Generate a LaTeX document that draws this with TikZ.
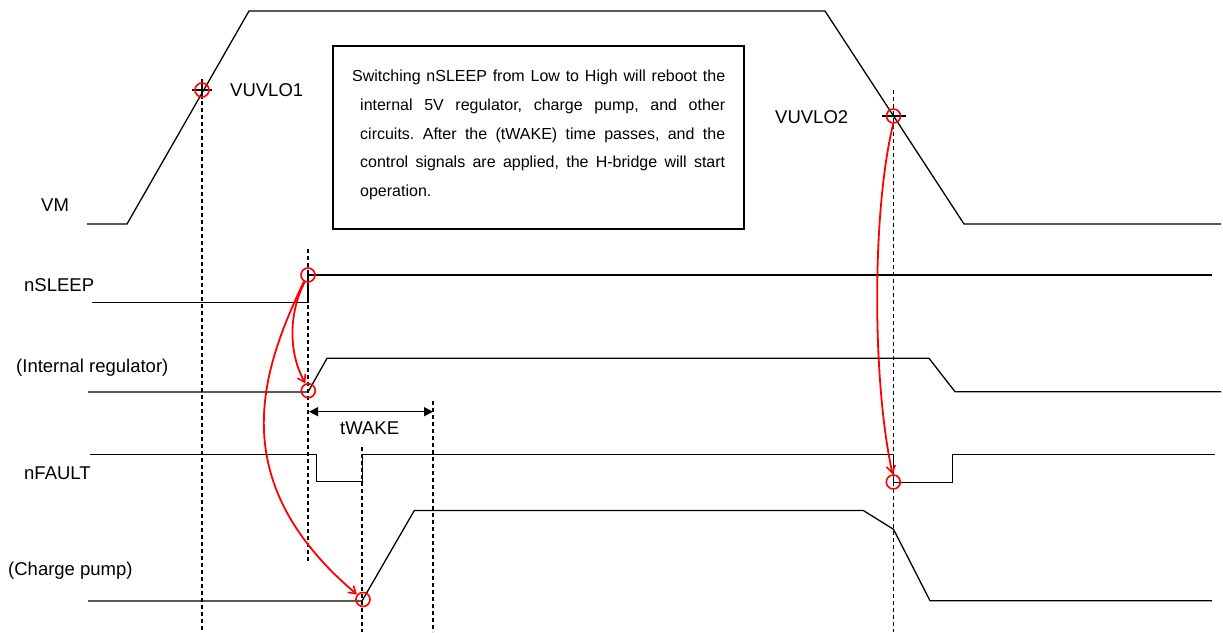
\documentclass[tikz,border=0pt]{standalone}
\usepackage{fontspec}
\setmainfont{Liberation Sans}
\usetikzlibrary{arrows.meta}
\begin{document}
\frenchspacing
\begin{tikzpicture}[x=1pt,y=-1pt,
  wave/.style={line width=1.3pt,line join=miter},
  guide/.style={line width=1.1pt,dash pattern=on 4pt off 3pt},
  ringmark/.style={circle,draw=red,line width=1.6pt,minimum size=14pt,inner sep=0pt},
  cross/.style={line width=1.1pt},
  cause/.style={draw=red,line width=1.8pt,-{Straight Barb[length=7pt,width=9pt,line width=1.6pt]}},
  lbl/.style={font=\fontsize{18.5}{22}\selectfont,inner sep=0pt,anchor=base west},
  dim/.style={line width=1.3pt,{Triangle[length=9pt,width=9pt]}-{Triangle[length=9pt,width=9pt]}}]
\useasboundingbox (0,0) rectangle (1223,632);
% guides
\draw[guide] (202,80) -- (202,632);
\draw[guide] (308,249) -- (308,561);
\draw[guide] (362,447) -- (362,632);
\draw[guide] (433,401) -- (433,632);
\draw[guide] (893.5,90) -- (893.5,632);
% waveforms
\draw[wave] (87,224) -- (127,224) -- (249,11) -- (825,11) -- (964,224) -- (1221,224);
\draw[wave] (92,302.7) -- (308,302.7) -- (308,275) -- (1212,275);
\draw[wave] (88,392) -- (308,392) -- (327,358.3) -- (929,358.3) -- (955,391.7) -- (1221,391.7);
\draw[wave] (90,454.5) -- (316.7,454.5) -- (316.7,481.7) -- (362.3,481.7) -- (362.3,454.5) -- (893.5,454.5) -- (893.5,482.3) -- (952.7,482.3) -- (952.7,454.5) -- (1215,454.5);
\draw[wave] (88,601) -- (362,601) -- (414.3,510.5) -- (863.3,510.5) -- (893.5,529.3) -- (930,600.7) -- (1212,600.7);
% crosshairs
\draw[cross] (192,90) -- (212,90);
\draw[cross] (202,79) -- (202,99);
\draw[cross] (882,116) -- (906,116);
% box
\node[draw,line width=1.6pt,minimum width=411pt,minimum height=183pt,inner sep=0pt,anchor=north west] (box) at (332,45) {};
\node[inner sep=0pt,anchor=base west,text width=365pt,align=justify,font=\fontsize{16}{28.75}\selectfont] (boxtext) at (360,81.7)
{\hspace*{-8pt}Switching nSLEEP from Low to High will reboot the\linebreak
internal 5V regulator, charge pump, and other\linebreak
circuits. After the (tWAKE) time passes, and the\linebreak
control signals are applied, the H-bridge will start\linebreak
operation.};
% labels
\node[lbl] (lvm) at (41,211) {VM};
\node[lbl] (lsleep) at (24,291) {nSLEEP};
\node[lbl] (lreg) at (16,372) {(Internal regulator)};
\node[lbl] (lfault) at (24,479) {nFAULT};
\node[lbl] (lcp) at (8,575) {(Charge pump)};
\node[lbl] (lu1) at (230,96.7) {VUVLO1};
\node[lbl] (lu2) at (775,123) {VUVLO2};
\node[lbl] (ltw) at (340,434) {tWAKE};
% markers
\node[ringmark] (c1) at (202,90) {};
\node[ringmark] (c2) at (893.5,116) {};
\node[ringmark] (c3) at (308,275) {};
\node[ringmark] (c4) at (308.3,390.7) {};
\node[ringmark] (c5) at (893.3,482) {};
\node[ringmark] (c6) at (363,599.5) {};
% tWAKE dimension
\coordinate (tw1) at (309,411.7);
\coordinate (tw2) at (433,411.7);
\draw[dim] (tw1) -- (tw2);
% cause arrows
\draw[cause] (c3.245) .. controls (290,310) and (287,350) .. (c4.112);
\draw[cause] (c3.238) .. controls (262,370) and (222,480) .. (c6.140);
\draw[cause] (c2.268) .. controls (872,210) and (872,380) .. (c5.95);
\end{tikzpicture}
\end{document}
